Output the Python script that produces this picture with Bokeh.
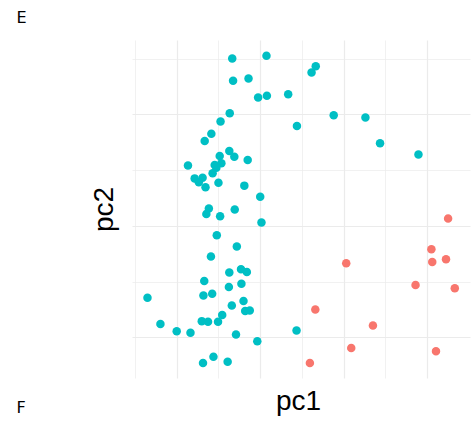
import math
from bokeh.plotting import figure
from bokeh.models import FixedTicker, Label, ColumnDataSource, Range1d
from bokeh.embed import file_html
from bokeh.resources import INLINE

# teal group (pc1, pc2)
teal_pc1 = [-0.68, 0.14, 1.32, 1.22, -0.66, -0.29, -0.06, 0.15, 0.66, -0.74,
            -0.96, 1.75, 2.51, 0.87, -1.18, -1.34, 2.86, 3.78, -0.75, -0.98,
            -0.63, -0.31, -1.74, -1.10, -0.94, -1.06, -1.15, -1.58, -1.39, -1.48,
            -1.32, -1.01, -0.39, -0.01, -1.24, -1.30, -0.62, -0.97, 0.02, -1.05,
            -0.57, -1.19, -0.75, -0.47, -0.33, -1.35, -0.76, -0.46, -2.71, -1.37,
            -1.16, -0.41, -0.69, -0.37, -0.26, -0.92, -2.40, -1.41, -1.26, -1.02,
            -2.01, -1.68, -0.59, 0.86, -0.08, -1.13, -1.38, -0.79]
teal_pc2 = [3.01, 3.06, 2.87, 2.76, 2.61, 2.65, 2.31, 2.34, 2.37, 2.03,
            1.88, 1.99, 1.95, 1.80, 1.66, 1.53, 1.49, 1.29, 1.35, 1.26,
            1.25, 1.19, 1.09, 1.10, 1.13, 1.05, 0.95, 0.86, 0.87, 0.79,
            0.70, 0.78, 0.73, 0.53, 0.32, 0.22, 0.30, 0.18, 0.07, -0.16,
            -0.36, -0.54, -0.83, -0.77, -0.82, -0.98, -1.09, -1.03, -1.28, -1.24,
            -1.21, -1.34, -1.42, -1.52, -1.51, -1.59, -1.75, -1.70, -1.71, -1.71,
            -1.88, -1.91, -1.94, -1.87, -2.06, -2.34, -2.45, -2.43]

# red group (pc1, pc2)
red_pc1 = [4.49, 4.09, 4.11, 4.44, 2.05, 3.71, 4.65, 1.31, 2.69, 2.17, 4.20, 1.18]
red_pc2 = [0.14, -0.41, -0.64, -0.59, -0.66, -1.05, -1.11, -1.49, -1.78, -2.18, -2.24, -2.45]

x_major = [-2, 0, 2, 4]
x_minor = [-3, -1, 1, 3]
y_major = [-2, 0, 2]
y_minor = [-1, 1, 3]

# panel limits (data range plus ggplot-like 5% expansion)
panel_x = (-3.08, 5.02)
panel_y = (-2.73, 3.34)

# the frame spans the whole canvas; the panel sits inside it
p = figure(width=476, height=421, output_backend="svg", toolbar_location=None,
           x_range=Range1d(-6.23, 5.17), y_range=Range1d(-3.50, 4.05),
           min_border_left=0, min_border_right=0, min_border_top=0,
           min_border_bottom=0)
p.xaxis.visible = False
p.yaxis.visible = False
p.outline_line_color = None
p.background_fill_color = "white"
p.border_fill_color = "white"

p.xgrid.ticker = FixedTicker(ticks=x_major, minor_ticks=x_minor)
p.ygrid.ticker = FixedTicker(ticks=y_major, minor_ticks=y_minor)
p.xgrid.cross_bounds = panel_y
p.ygrid.cross_bounds = panel_x
for g in (p.xgrid, p.ygrid):
    g.grid_line_color = "#EBEBEB"
    g.grid_line_width = 1.2
    g.minor_grid_line_color = "#EBEBEB"
    g.minor_grid_line_width = 0.7

teal_src = ColumnDataSource(dict(x=teal_pc1, y=teal_pc2))
red_src = ColumnDataSource(dict(x=red_pc1, y=red_pc2))
p.scatter("x", "y", source=teal_src, size=8.5, fill_color="#00BFC4", line_color=None)
p.scatter("x", "y", source=red_src, size=8.5, fill_color="#F8766D", line_color=None)

font = "Liberation Sans"
p.add_layout(Label(x=298, y=21, x_units="screen", y_units="screen", text="pc1",
                   text_font=font, text_font_size="28px", text_align="center",
                   text_baseline="alphabetic", text_color="black"))
p.add_layout(Label(x=103, y=212, x_units="screen", y_units="screen", text="pc2",
                   angle=math.pi / 2, text_font=font, text_font_size="28px",
                   text_align="center", text_baseline="alphabetic", text_color="black"))
p.add_layout(Label(x=16, y=404, x_units="screen", y_units="screen", text="E",
                   text_font="DejaVu Sans", text_font_size="16px", text_align="left",
                   text_baseline="alphabetic", text_color="black"))
p.add_layout(Label(x=16, y=14, x_units="screen", y_units="screen", text="F",
                   text_font="DejaVu Sans", text_font_size="16px", text_align="left",
                   text_baseline="alphabetic", text_color="black"))

open("out.html", "w").write(file_html(p, INLINE))
